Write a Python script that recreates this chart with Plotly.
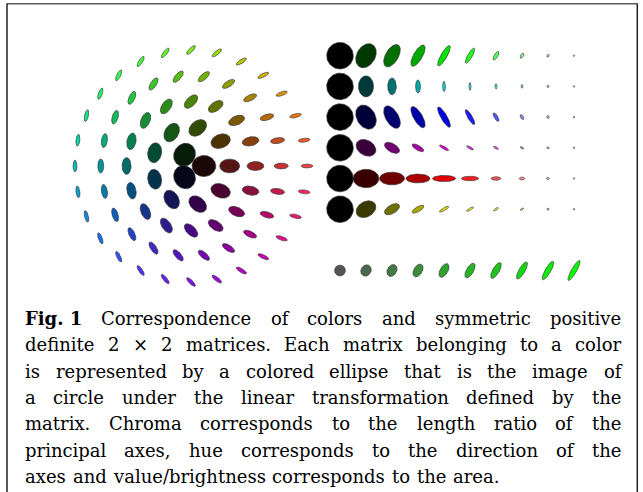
import glob
import struct

import numpy as np
import plotly.graph_objects as go

# ---------------------------------------------------------------- data
# Colour disk: each ring is a circle of hues at one colour strength
RING_LEVELS = [1/9, 3/9, 5/9, 7/9, 9/9]
RING_HUE_COUNTS = [3, 9, 16, 22, 28]

# Grid rows (top to bottom): base colour of each row
ROW_PRIMARIES = [(0, 1, 0), (0, 1, 1), (0, 0, 1), (1, 0, 1), (1, 0, 0), (1, 1, 0)]
# Position along the path black -> base colour (0..1) -> white (1..2)
RAMP_STEPS = [0/9, 2/9, 4/9, 6/9, 8/9, 10/9, 12/9, 14/9, 16/9, 18/9]

# Bottom strip: mixture from grey to green
MIX_START = (1/3, 1/3, 1/3)
MIX_END = (0, 1, 0)
MIX_STEPS = [0/9, 1/9, 2/9, 3/9, 4/9, 5/9, 6/9, 7/9, 8/9, 9/9]

CAPTION_LABEL = "Fig. 1"
CAPTION_LINES = [
    "Correspondence of colors and symmetric positive",
    "definite 2 \u00d7 2 matrices. Each matrix belonging to a color",
    "is represented by a colored ellipse that is the image of",
    "a circle under the linear transformation defined by the",
    "matrix. Chroma corresponds to the length ratio of the",
    "principal axes, hue corresponds to the direction of the",
    "axes and value/brightness corresponds to the area.",
]

# ---------------------------------------------------------------- geometry
W, H = 643, 492
K = 1.5                       # strength of the colour -> matrix exponent
ISO = 0.1                     # isotropic share of each channel
DISK_CX, DISK_CY, DISK_R = 191, 166, 116
DISK_UNIT = 13                # radius of the unit circle in the disk
GRID_X0, GRID_DX = 340, 26
GRID_Y0, GRID_DY = 55.7, 30.7
GRID_UNIT = 13.3
STRIP_Y = 270.5

# R, G, B each compress the circle along one direction (60 degrees apart)
DIRS = np.deg2rad([90, 150, 210])
U = np.stack([np.cos(DIRS), np.sin(DIRS)], axis=1)


def color_matrix(rgb):
    S = sum(c * (np.outer(u, u) + ISO * np.eye(2)) for c, u in zip(rgb, U))
    lam, V = np.linalg.eigh(S)
    return V @ np.diag(np.exp(-K * lam)) @ V.T


T = np.linspace(0, 2 * np.pi, 73)
CIRCLE = np.vstack([np.cos(T), np.sin(T)])


def rgb_str(rgb):
    r, g, b = (int(round(255 * min(max(c, 0), 1))) for c in rgb)
    return f"rgb({r},{g},{b})"


fig = go.Figure()


def add_ellipse(cx, cy, rgb, unit):
    pts = unit * color_matrix(rgb) @ CIRCLE
    fig.add_trace(go.Scatter(
        x=cx + pts[0], y=cy - pts[1], mode="lines", fill="toself",
        fillcolor=rgb_str(rgb), line=dict(color="rgba(55,55,55,0.85)", width=0.8),
        hoverinfo="skip", showlegend=False))


# colour disk: hue = angle, strength = ring
for level, count in zip(RING_LEVELS, RING_HUE_COUNTS):
    rho = level * DISK_R
    for j in range(count):
        th = 2 * np.pi * j / count
        rgb = [level * (1 + np.cos(th - ph)) / 2 for ph in np.deg2rad([0, 120, 240])]
        add_ellipse(DISK_CX + rho * np.cos(th), DISK_CY - rho * np.sin(th), rgb, DISK_UNIT)

# grid: black -> colour -> white per row
for i, base in enumerate(ROW_PRIMARIES):
    for j, s in enumerate(RAMP_STEPS):
        if s <= 1:
            rgb = [s * p for p in base]
        else:
            rgb = [p + (s - 1) * (1 - p) for p in base]
        add_ellipse(GRID_X0 + j * GRID_DX, GRID_Y0 + i * GRID_DY, rgb, GRID_UNIT)

# strip: grey -> green
for j, t in enumerate(MIX_STEPS):
    rgb = [a + t * (b - a) for a, b in zip(MIX_START, MIX_END)]
    add_ellipse(GRID_X0 + j * GRID_DX, STRIP_Y, rgb, GRID_UNIT)


# ---------------------------------------------------------------- caption
def font_advances(name):
    """Advance widths (in em) read from an installed TrueType file."""
    for path in glob.glob(f"/usr/share/fonts/**/{name}", recursive=True):
        try:
            data = open(path, "rb").read()
            ntab = struct.unpack(">H", data[4:6])[0]
            tab = {}
            for i in range(ntab):
                tag, _, off, ln = struct.unpack(">4sIII", data[12 + 16 * i:28 + 16 * i])
                tab[tag.decode("latin1")] = off
            upem = struct.unpack(">H", data[tab["head"] + 18:tab["head"] + 20])[0]
            nhm = struct.unpack(">H", data[tab["hhea"] + 34:tab["hhea"] + 36])[0]
            hm = tab["hmtx"]
            adv = [struct.unpack(">H", data[hm + 4 * i:hm + 4 * i + 2])[0] for i in range(nhm)]
            cm = tab["cmap"]
            nsub = struct.unpack(">H", data[cm + 2:cm + 4])[0]
            sub = None
            for i in range(nsub):
                pid, eid, off = struct.unpack(">HHI", data[cm + 4 + 8 * i:cm + 12 + 8 * i])
                if (pid, eid) in ((3, 1), (0, 3)) and struct.unpack(">H", data[cm + off:cm + off + 2])[0] == 4:
                    sub = cm + off
                    break
            seg2 = struct.unpack(">H", data[sub + 6:sub + 8])[0]
            seg = seg2 // 2
            o_end = sub + 14
            o_start = o_end + seg2 + 2
            o_delta = o_start + seg2
            o_ro = o_delta + seg2
            ends = struct.unpack(f">{seg}H", data[o_end:o_end + seg2])
            starts = struct.unpack(f">{seg}H", data[o_start:o_start + seg2])
            deltas = struct.unpack(f">{seg}h", data[o_delta:o_delta + seg2])
            ros = struct.unpack(f">{seg}H", data[o_ro:o_ro + seg2])

            def width(ch):
                cp = ord(ch)
                gid = 0
                for i in range(seg):
                    if ends[i] >= cp:
                        if starts[i] <= cp:
                            if ros[i] == 0:
                                gid = (cp + deltas[i]) & 0xFFFF
                            else:
                                a = o_ro + 2 * i + ros[i] + 2 * (cp - starts[i])
                                g = struct.unpack(">H", data[a:a + 2])[0]
                                gid = (g + deltas[i]) & 0xFFFF if g else 0
                        break
                return adv[min(gid, nhm - 1)] / upem
            return width
        except Exception:
            continue
    return lambda ch: 0.62 if ch != " " else 0.32


serif_w = font_advances("DejaVuSerif.ttf")
serif_bold_w = font_advances("DejaVuSerif-Bold.ttf")

FS = 18
LEFT, RIGHT = 24, 620
BASE0, LEAD = 325, 26.4
FONT = dict(family="DejaVu Serif, serif", size=FS, color="black")


def tw(s, fn):
    return sum(fn(ch) for ch in s) * FS


for li, line in enumerate(CAPTION_LINES):
    words = [(w, False) for w in line.split(" ")]
    if li == 0:
        words = [(CAPTION_LABEL, True)] + words
    widths = [tw(w, serif_bold_w if b else serif_w) for w, b in words]
    last = li == len(CAPTION_LINES) - 1
    gap = tw(" ", serif_w) * 1.2 if last else (RIGHT - LEFT - sum(widths)) / (len(words) - 1)
    x = LEFT
    y = BASE0 + li * LEAD
    for (w, b), wd in zip(words, widths):
        fig.add_annotation(x=x, y=y + 0.236 * FS + 0.5, xref="x", yref="y", xanchor="left",
                           yanchor="bottom", showarrow=False, borderpad=0,
                           text=f"<b>{w}</b>" if b else w, font=FONT)
        x += wd + gap

# frame
fig.add_shape(type="line", x0=7, x1=637.5, y0=3.8, y1=3.8, line=dict(color="#5a5a5a", width=1.4))
fig.add_shape(type="line", x0=7, x1=7, y0=3.5, y1=H, line=dict(color="#222", width=1.5))
fig.add_shape(type="line", x0=637.3, x1=637.3, y0=3.5, y1=H, line=dict(color="#222", width=1.5))

fig.update_layout(
    width=W, height=H, autosize=False,
    margin=dict(l=0, r=0, t=0, b=0),
    paper_bgcolor="white", plot_bgcolor="white",
    xaxis=dict(range=[0, W], visible=False, fixedrange=True),
    yaxis=dict(range=[H, 0], visible=False, fixedrange=True),
)

fig.write_html("out.html", config={"displayModeBar": False})
